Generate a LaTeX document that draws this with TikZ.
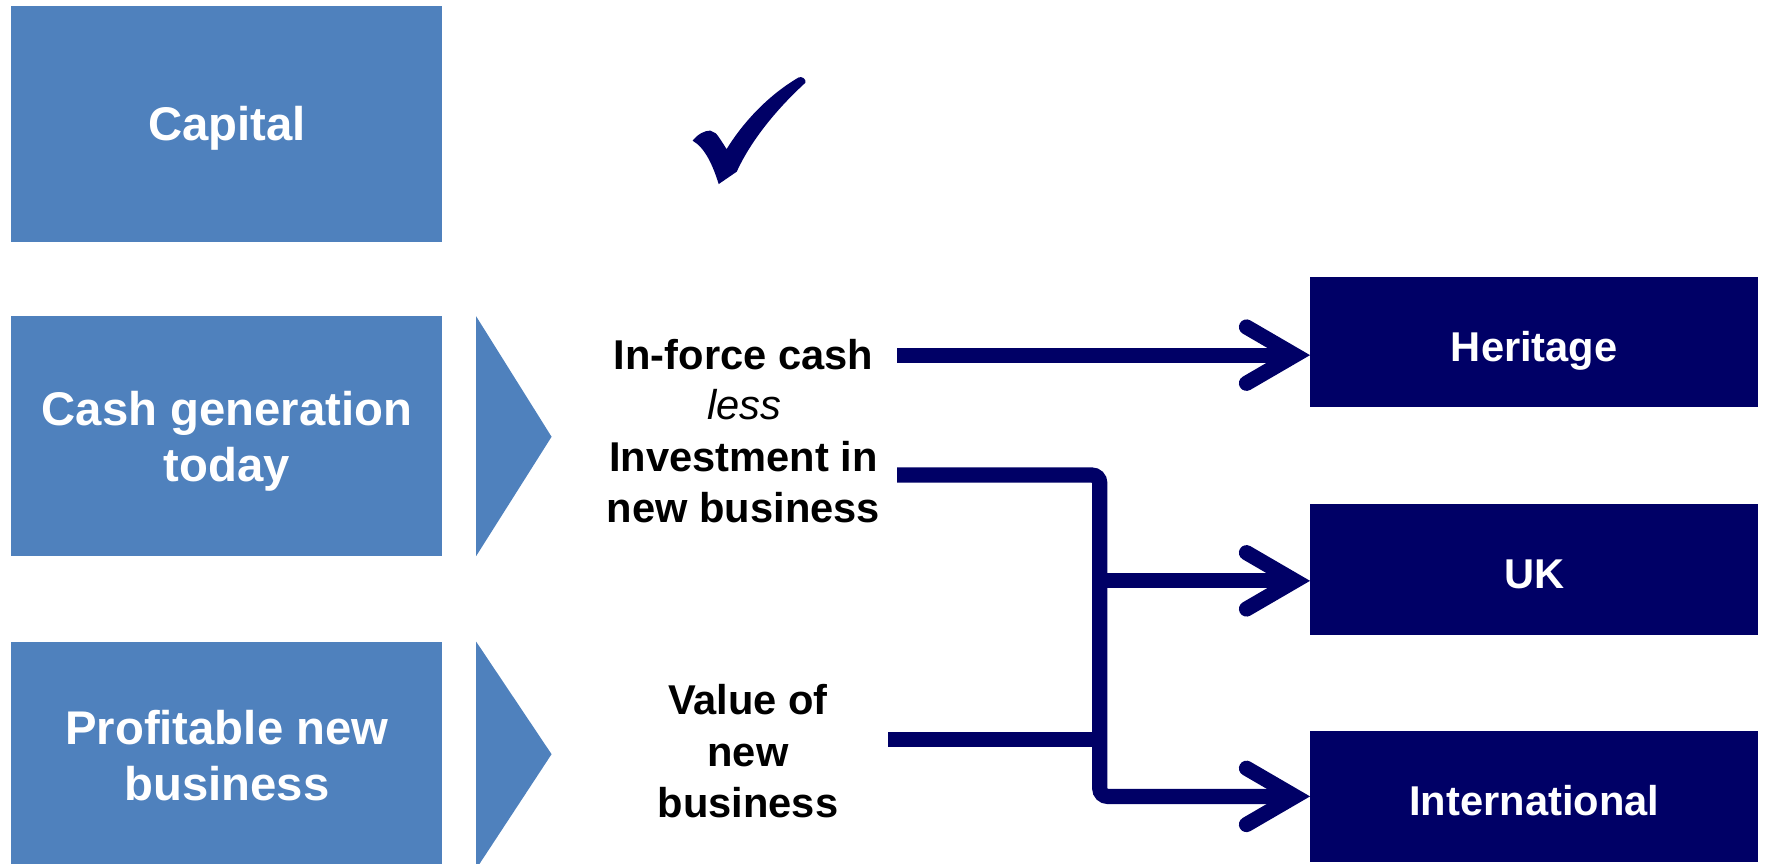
\documentclass[tikz,border=0pt]{standalone}
\usepackage{fontspec}
\setmainfont{Liberation Sans}
\usetikzlibrary{arrows.meta}
\definecolor{lblue}{RGB}{79,129,189}
\definecolor{navy}{RGB}{0,0,102}
\begin{document}
\begin{tikzpicture}[x=1pt,y=-1pt,
  lbox/.style={rectangle, fill=lblue, draw=none, inner sep=0pt, minimum width=383pt,
    text=white, align=center, font=\bfseries\fontsize{42}{50}\selectfont, text depth=0pt},
  rbox/.style={rectangle, fill=navy, draw=none, inner sep=0pt, minimum width=398pt, minimum height=116pt,
    text=white, font=\bfseries\fontsize{37}{45}\selectfont, text height=34pt, text depth=0pt},
  midtxt/.style={inner sep=0pt, anchor=base, text=black, font=\bfseries\fontsize{37}{45}\selectfont},
  chev/.style={fill=lblue, draw=none},
  conn/.style={draw=navy, line width=13.5pt, line cap=butt},
  tip/.style={-{Straight Barb[length=43pt,width=50pt,line cap=round,line join=miter]}}
]
\useasboundingbox (0,0) rectangle (1568,766.7);

% left boxes
\node[lbox, minimum height=210pt] (capital) at (201.5,110) {Capital};
\node[lbox, minimum height=213pt] (cashgen) at (201.5,387.5) {Cash generation\\today};
\node[lbox, minimum height=202pt] (profit) at (201.5,671) {Profitable new\\business};

% chevrons
\fill[chev] (423,281) -- (490,388) -- (423,494) -- cycle;
\fill[chev] (423,570) -- (490,670) -- (423,772) -- cycle;

% check mark
\fill[navy] (615.3,125) .. controls (620,119) and (626,116) .. (631,116)
  -- (636,118.5)
  .. controls (639,122) and (642,127) .. (645.5,132.5)
  .. controls (658,112) and (680,86) .. (709.5,68.8)
  .. controls (712,67.5) and (716.5,70) .. (715.5,73.5)
  .. controls (692,95) and (668,123) .. (654.5,152.5)
  -- (638.5,163.5)
  .. controls (633,146) and (626,131) .. cycle;

% middle texts
\node[midtxt] (t1) at (660.5,328) {In-force cash};
\node[midtxt, font=\itshape\mdseries\fontsize{37}{45}\selectfont] (t2) at (661.5,373) {less};
\node[midtxt] (t3) at (660.5,419) {Investment in};
\node[midtxt] (t4) at (660.5,464) {new business};
\node[midtxt] (v1) at (664.5,635) {Value of};
\node[midtxt] (v2) at (664.5,681) {new};
\node[midtxt] (v3) at (664.5,726) {business};

% right boxes
\node[rbox] (heritage) at (1363,304) {Heritage};
\node[rbox] (uk) at (1363,506) {UK};
\node[rbox] (intl) at (1363,707.5) {International};

% connector points
\coordinate (a1) at (797,315.5);
\coordinate (a2) at (797,422);
\coordinate (j1) at (977,422);
\coordinate (j2) at (977,707.5);
\coordinate (ju) at (977,516);
\coordinate (a3) at (789,657);
\coordinate (jv) at (977,657);

\draw[conn, tip] (a1) -- (a1 -| heritage.west);
\draw[conn, tip, rounded corners=7pt] (a2) -- (j1) -- (j2) -- (j2 -| intl.west);
\draw[conn, tip] (ju) -- (ju -| uk.west);
\draw[conn] (a3) -- (jv);
\end{tikzpicture}
\end{document}
